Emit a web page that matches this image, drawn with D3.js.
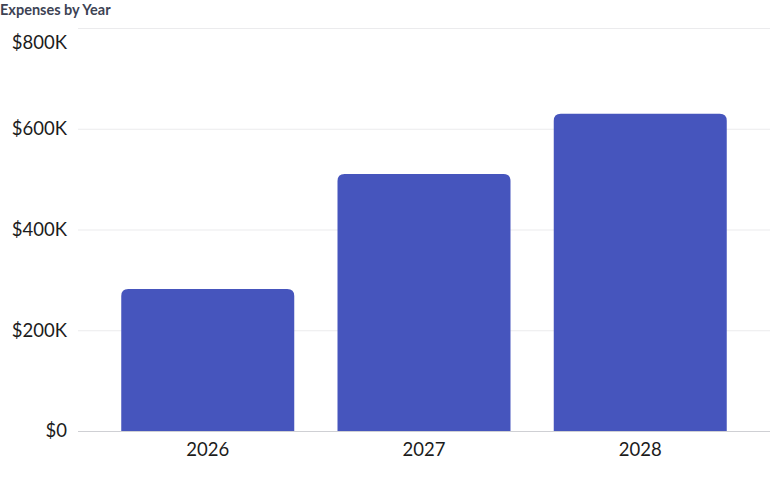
<!DOCTYPE html>
<html><head><meta charset="utf-8">
<script src="https://cdn.jsdelivr.net/npm/d3@7"></script>
<style>html,body{margin:0;padding:0;background:#fff;}svg{display:block;}</style>
</head><body>
<svg id="chart" width="770" height="477"></svg>
<script>
const categories = ["2026", "2027", "2028"];
const expenses = [282000, 510000, 630000];
const yTicks = [0, 200000, 400000, 600000, 800000];
const title = "Expenses by Year";

const svg = d3.select("#chart");
const W = 770, H = 477;
const m = {left: 78, right: 0, top: 28, bottom: 46};
const x = d3.scaleBand().domain(categories).range([m.left, W - m.right]).paddingInner(0.2).paddingOuter(0.2);
const y = d3.scaleLinear().domain([0, 800000]).range([H - m.bottom, m.top]);
const font = "Lato, 'Open Sans', sans-serif";

svg.append("text").attr("x", 0).attr("y", 15).text(title)
  .attr("font-family", font).attr("font-weight", 700).attr("font-size", 14.5).attr("fill", "#3d4354");

const fmt = v => "$" + (v === 0 ? "0" : (v / 1000) + "K");

const yAxis = svg.append("g").attr("transform", `translate(${m.left},0)`)
  .call(d3.axisLeft(y).tickValues(yTicks).tickFormat(fmt).tickSize(-(W - m.left - m.right)).tickPadding(11));
yAxis.select(".domain").remove();
yAxis.selectAll(".tick line").attr("stroke", d => d === 0 ? "#cfd0d4" : "#ebebed").attr("stroke-width", 1);
yAxis.selectAll(".tick text").attr("font-family", font).attr("font-size", 18.5).attr("fill", "#1c1c1c")
  .attr("dy", d => d === 800000 ? "1.1em" : "0.32em");

const r = 7;
svg.append("g").selectAll("path").data(categories).join("path")
  .attr("fill", "#4655BD")
  .attr("d", (c, i) => {
    const x0 = x(c), w = x.bandwidth(), y0 = y(expenses[i]), yb = y(0);
    return `M${x0},${yb}V${y0 + r}Q${x0},${y0} ${x0 + r},${y0}H${x0 + w - r}Q${x0 + w},${y0} ${x0 + w},${y0 + r}V${yb}Z`;
  });

const xAxis = svg.append("g").attr("transform", `translate(0,${y(0)})`)
  .call(d3.axisBottom(x).tickSize(0).tickPadding(12));
xAxis.select(".domain").remove();
xAxis.selectAll(".tick text").attr("font-family", font).attr("font-size", 18.5).attr("fill", "#1c1c1c");
</script>
</body></html>
